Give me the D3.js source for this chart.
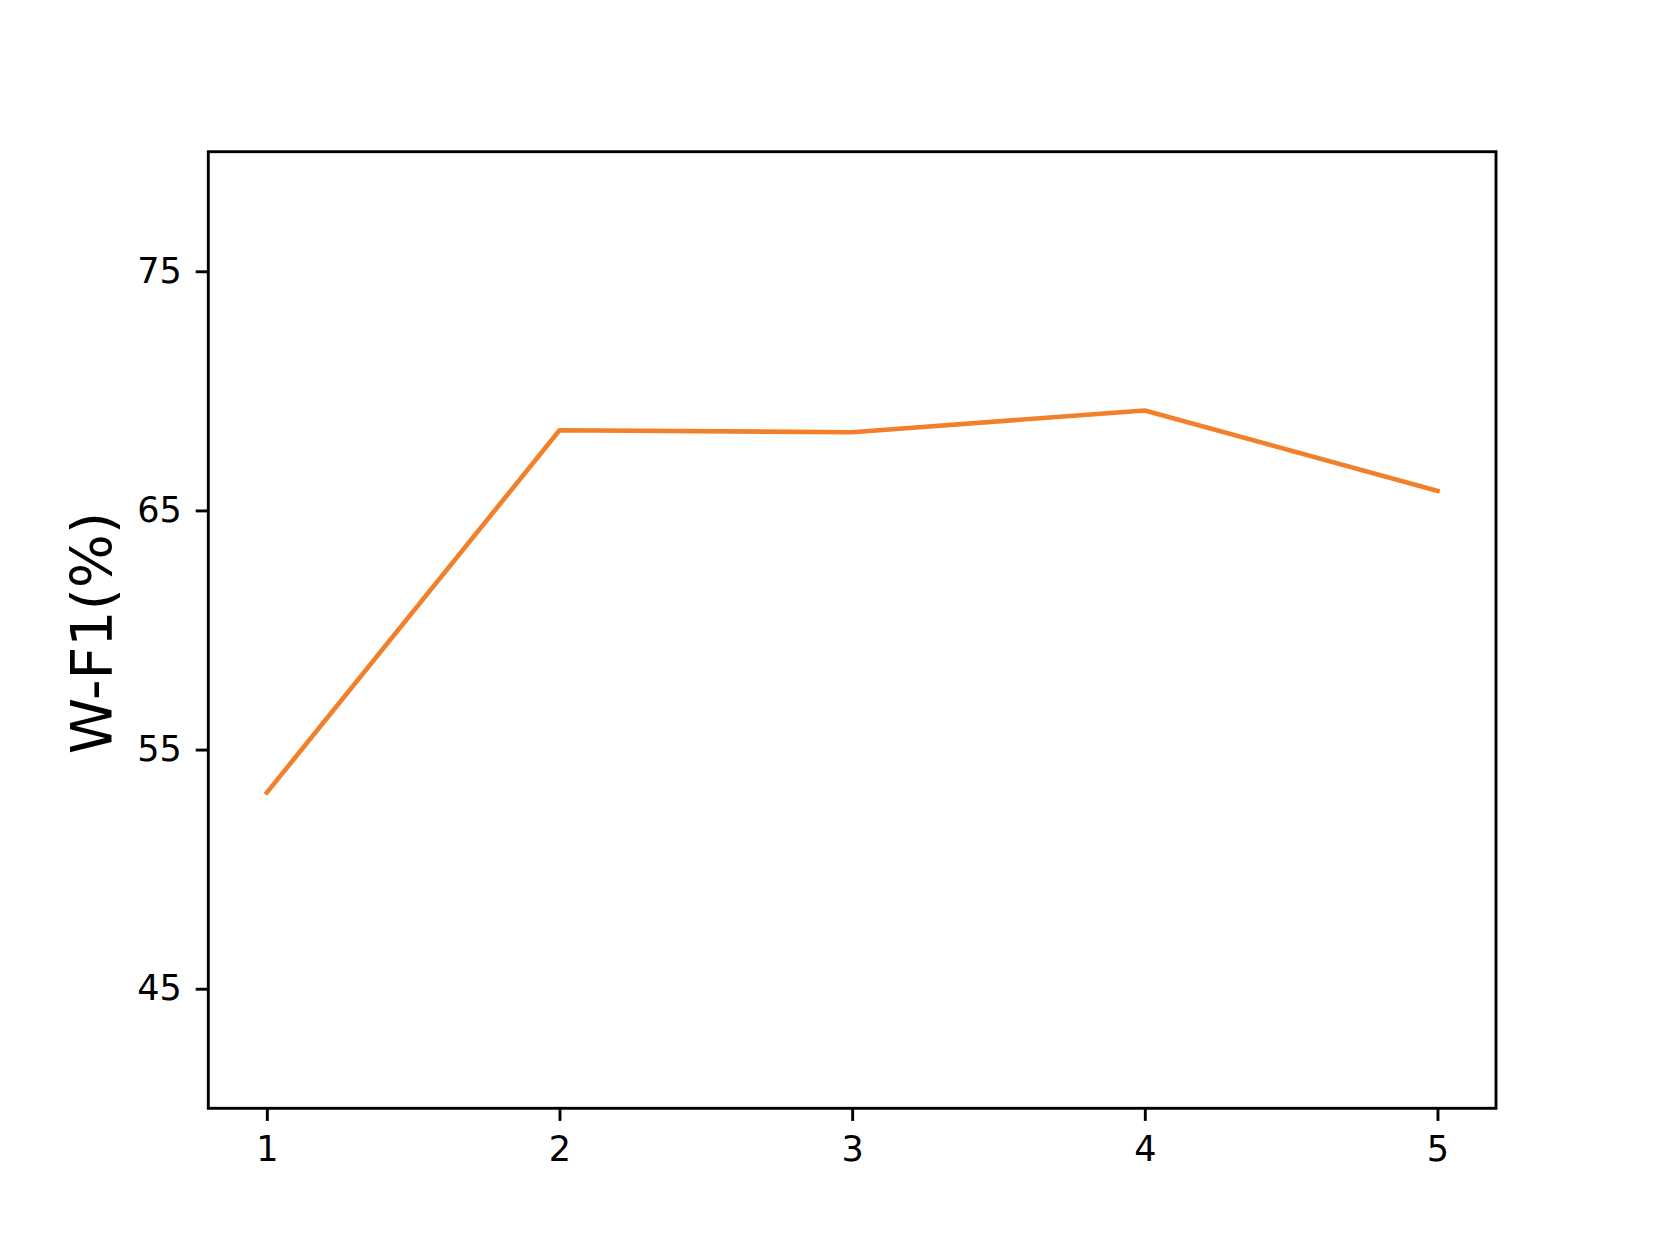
<!DOCTYPE html>
<html>
<head>
<meta charset="utf-8">
<script src="https://cdn.jsdelivr.net/npm/d3@7"></script>
<style>
  html, body { margin: 0; padding: 0; background: #fff; }
  svg { display: block; }
  text { font-family: "DejaVu Sans", sans-serif; fill: #000; }
</style>
</head>
<body>
<script>
// Data
const xValues = [1, 2, 3, 4, 5];
const wf1Values = [53.2, 68.35, 68.27, 69.18, 65.82];
const xTicks = [1, 2, 3, 4, 5];
const yTicks = [45, 55, 65, 75];
const yLabel = "W-F1(%)";

const W = 1660, H = 1245;
const m = { left: 208.3, right: 1496, top: 151.7, bottom: 1108.3 };

const svg = d3.select("body").append("svg").attr("width", W).attr("height", H);

const x = d3.scaleLinear().domain([0.8, 5.2]).range([m.left, m.right]);
const y = d3.scaleLinear().domain([40, 80]).range([m.bottom, m.top]);

// line
const line = d3.line().x((d, i) => x(xValues[i])).y(d => y(d));
svg.append("path")
  .datum(wf1Values)
  .attr("d", line)
  .attr("fill", "none")
  .attr("stroke", "#f2802a")
  .attr("stroke-width", 4.6)
  .attr("stroke-linecap", "square")
  .attr("stroke-linejoin", "round");

// axes
const xAxis = d3.axisBottom(x).tickValues(xTicks).tickFormat(d3.format("d")).tickSize(12.6).tickPadding(15);
const yAxis = d3.axisLeft(y).tickValues(yTicks).tickFormat(d3.format("d")).tickSize(12.6).tickPadding(14);

const gx = svg.append("g").attr("transform", `translate(0,${m.bottom})`).call(xAxis);
const gy = svg.append("g").attr("transform", `translate(${m.left},0)`).call(yAxis);
[gx, gy].forEach(g => {
  g.select(".domain").remove();
  g.selectAll(".tick line").attr("stroke", "#000").attr("stroke-width", 2.9);
  g.selectAll(".tick text").attr("font-size", 35).attr("font-family", "DejaVu Sans").attr("fill", "#111");
});

// frame
svg.append("rect")
  .attr("x", m.left).attr("y", m.top)
  .attr("width", m.right - m.left).attr("height", m.bottom - m.top)
  .attr("fill", "none").attr("stroke", "#000").attr("stroke-width", 2.9);

// y label
svg.append("text")
  .attr("transform", `translate(112,${(m.top + m.bottom) / 2 + 3}) rotate(-90)`)
  .attr("text-anchor", "middle")
  .attr("font-size", 57)
  .text(yLabel);
</script>
</body>
</html>
